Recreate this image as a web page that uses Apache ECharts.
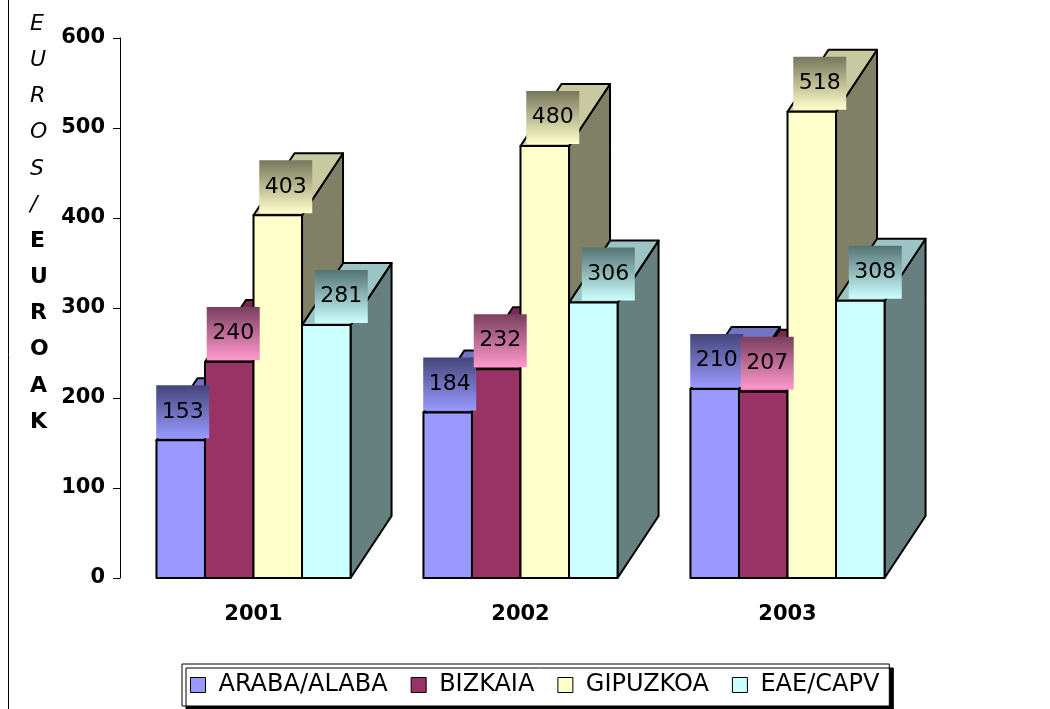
<!DOCTYPE html>
<html>
<head>
<meta charset="utf-8">
<script src="https://cdn.jsdelivr.net/npm/echarts@6/dist/echarts.min.js"></script>
<style>
  html, body { margin: 0; padding: 0; background: #fff; }
  #chart { width: 1050px; height: 709px; }
</style>
</head>
<body>
<div id="chart"></div>
<script>
// data
var years = ['2001', '2002', '2003'];
var seriesNames = ['ARABA/ALABA', 'BIZKAIA', 'GIPUZKOA', 'EAE/CAPV'];
var araba = [153, 184, 210];
var bizkaia = [240, 232, 207];
var gipuzkoa = [403, 480, 518];
var eae = [281, 306, 308];
var yTicks = [0, 100, 200, 300, 400, 500, 600];

var allValues = [araba, bizkaia, gipuzkoa, eae];

var FONT = "'DejaVu Sans', sans-serif";
var DX = 41, DY = 62;       // 3d depth offset
var GROUP = 0.727;          // share of a category band taken by the 4 bars

var palette = [
  { front: '#9999FF', top: '#7373C4', side: '#5C5C99', lblTop: '#45457A', lblBot: '#9999FF', lblDx: 2 },
  { front: '#993366', top: '#7A2952', side: '#5E1F40', lblTop: '#7A3F5E', lblBot: '#FF99CC', lblDx: 4 },
  { front: '#FFFFCC', top: '#C9C9A1', side: '#808066', lblTop: '#77775C', lblBot: '#FFFFCC', lblDx: 8 },
  { front: '#CCFFFF', top: '#9CC4C4', side: '#668080', lblTop: '#557373', lblBot: '#CCFFFF', lblDx: 15 }
];

function barGeom(api, si, cat, v) {
  var top = api.coord([cat, v]);
  var base = api.coord([cat, 0]);
  var band = api.size([1, 0])[0];
  var w = band * GROUP / 4;
  var x0 = top[0] - 2 * w + si * w;
  return { x0: x0, x1: x0 + w, w: w, yt: top[1], yb: base[1] };
}

function renderBar(si) {
  return function (params, api) {
    var g = barGeom(api, si, api.value(0), api.value(1));
    var c = palette[si];
    var line = { stroke: '#000', lineWidth: 2, lineJoin: 'round' };
    return {
      type: 'group',
      children: [
        { type: 'polygon', shape: { points: [[g.x1, g.yb], [g.x1 + DX, g.yb - DY], [g.x1 + DX, g.yt - DY], [g.x1, g.yt]] },
          style: Object.assign({ fill: c.side }, line) },
        { type: 'polygon', shape: { points: [[g.x0, g.yt], [g.x0 + DX, g.yt - DY], [g.x1 + DX, g.yt - DY], [g.x1, g.yt]] },
          style: Object.assign({ fill: c.top }, line) },
        { type: 'rect', shape: { x: g.x0, y: g.yt, width: g.w, height: g.yb - g.yt },
          style: Object.assign({ fill: c.front }, line) }
      ]
    };
  };
}

function renderLabel(params, api) {
  var si = api.value(1);
  var v = api.value(2);
  var g = barGeom(api, si, api.value(0), v);
  var c = palette[si];
  var bw = 53, bh = 53;
  var cx = (g.x0 + g.x1) / 2 + c.lblDx;
  var yBottom = g.yt - 2;
  return {
    type: 'group',
    children: [
      { type: 'rect', shape: { x: cx - bw / 2, y: yBottom - bh, width: bw, height: bh },
        style: { fill: { type: 'linear', x: 0, y: 0, x2: 0, y2: 1,
          colorStops: [{ offset: 0, color: c.lblTop }, { offset: 1, color: c.lblBot }] } } },
      { type: 'text', style: { text: String(v), x: cx, y: yBottom - bh / 2, align: 'center', verticalAlign: 'middle',
          font: '22px ' + FONT, fill: '#000' } }
    ]
  };
}

var series = seriesNames.map(function (name, si) {
  return {
    name: name,
    type: 'custom',
    z: 2,
    itemStyle: { color: palette[si].front, borderColor: '#000', borderWidth: 1 },
    renderItem: renderBar(si),
    encode: { x: 0, y: 1 },
    data: allValues[si].map(function (v, i) { return [i, v]; })
  };
});

var labelData = [];
allValues.forEach(function (arr, si) {
  arr.forEach(function (v, i) { labelData.push([i, si, v]); });
});
series.push({
  name: 'labels',
  type: 'custom',
  z: 5,
  silent: true,
  renderItem: renderLabel,
  encode: { x: 0, y: 2 },
  data: labelData
});

var chart = echarts.init(document.getElementById('chart'));
chart.setOption({
  animation: false,
  backgroundColor: '#fff',
  grid: { left: 120, right: 129, top: 38, bottom: 131, containLabel: false },
  xAxis: {
    type: 'category',
    data: years,
    axisLine: { show: false },
    axisTick: { show: false },
    axisLabel: { margin: 26, color: '#000', fontFamily: FONT, fontWeight: 'bold', fontSize: 21 }
  },
  yAxis: {
    type: 'value',
    min: yTicks[0],
    max: yTicks[yTicks.length - 1],
    interval: 100,
    axisLine: { show: true, lineStyle: { color: '#000', width: 1 } },
    axisTick: { show: true, length: 7, lineStyle: { color: '#000' } },
    splitLine: { show: false },
    axisLabel: { margin: 15, color: '#000', fontFamily: FONT, fontWeight: 'bold', fontSize: 21 }
  },
  legend: {
    data: seriesNames,
    bottom: 3,
    left: 182,
    icon: 'rect',
    itemWidth: 15,
    itemHeight: 15,
    itemGap: 23,
    padding: [9, 10, 9, 8],
    borderColor: '#000',
    borderWidth: 1,
    backgroundColor: '#fff',
    shadowColor: '#000',
    shadowOffsetX: 4,
    shadowOffsetY: 4,
    shadowBlur: 0,
    itemStyle: { borderColor: '#000', borderWidth: 1 },
    textStyle: { color: '#000', fontFamily: FONT, fontSize: 24, padding: [0, 0, 0, 8] }
  },
  graphic: [
    { type: 'line', shape: { x1: 8.5, y1: 0, x2: 8.5, y2: 709 }, style: { stroke: '#000', lineWidth: 1 } },
    { type: 'text', left: 30, top: 6,
      style: { text: 'E\nU\nR\nO\nS\n/', font: 'italic 22px ' + FONT, lineHeight: 36.2, align: 'center', fill: '#000' } },
    { type: 'text', left: 30, top: 223,
      style: { text: 'E\nU\nR\nO\nA\nK', font: 'bold 22px ' + FONT, lineHeight: 36.2, align: 'center', fill: '#000' } }
  ],
  series: series
});
</script>
</body>
</html>
